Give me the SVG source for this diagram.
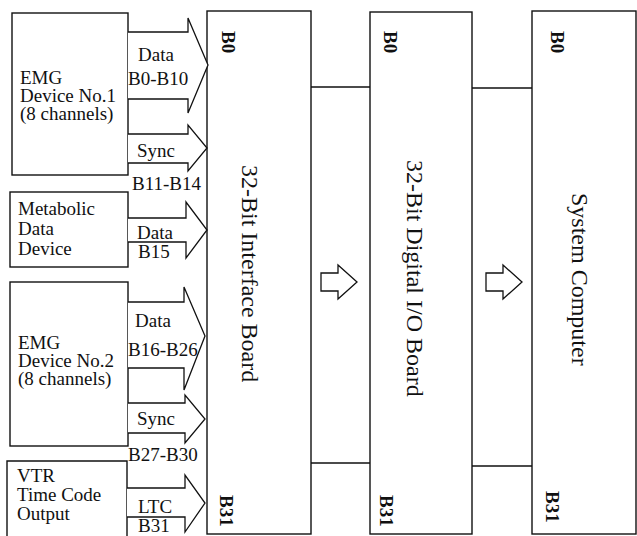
<svg xmlns="http://www.w3.org/2000/svg" width="637" height="536" viewBox="0 0 637 536">
<style>
.box{fill:#fff;stroke:#111;stroke-width:1.4}
.ln{fill:none;stroke:#111;stroke-width:1.4}
.ar{fill:#fff;stroke:#111;stroke-width:1.3;stroke-linejoin:miter}
.t{font-family:"Liberation Serif","Times New Roman",serif;font-size:19px;fill:#111}
.l{font-family:"Liberation Serif","Times New Roman",serif;font-size:19px;fill:#111}
.bt{font-family:"Liberation Serif","Times New Roman",serif;font-size:24px;fill:#111}
.bb{font-family:"Liberation Serif","Times New Roman",serif;font-size:19px;font-weight:bold;fill:#111}
</style>
<rect width="637" height="536" fill="#fff"/>
<g id="emg1">
<rect class="box" x="12" y="13" width="116" height="162"/>
<text class="t" x="20" y="84">EMG</text>
<text class="t" x="20" y="102">Device No.1</text>
<text class="t" x="20" y="120">(8 channels)</text>
</g>
<g id="metabolic">
<rect class="box" x="10" y="192" width="118" height="75"/>
<text class="t" x="18" y="215">Metabolic</text>
<text class="t" x="18" y="235">Data</text>
<text class="t" x="18" y="255">Device</text>
</g>
<g id="emg2">
<rect class="box" x="10" y="282" width="118" height="164"/>
<text class="t" x="18" y="349">EMG</text>
<text class="t" x="18" y="367">Device No.2</text>
<text class="t" x="18" y="385">(8 channels)</text>
</g>
<g id="vtr">
<path class="ln" d="M7,537 V461 H127 V537"/>
<text class="t" x="17" y="482">VTR</text>
<text class="t" x="17" y="501">Time Code</text>
<text class="t" x="17" y="520">Output</text>
</g>
<g id="interface-board">
<rect class="box" x="207" y="11" width="104" height="523"/>
<text class="bb" transform="translate(222,31) rotate(90)">B0</text>
<text class="bt" transform="translate(242,165) rotate(90)">32-Bit Interface Board</text>
<text class="bb" transform="translate(220,495) rotate(90)">B31</text>
</g>
<g id="dio-board">
<rect class="box" x="370" y="12" width="102" height="522"/>
<text class="bb" transform="translate(384,31) rotate(90)">B0</text>
<text class="bt" transform="translate(407,160) rotate(90)">32-Bit Digital I/O Board</text>
<text class="bb" transform="translate(380,495) rotate(90)">B31</text>
</g>
<g id="system-computer">
<rect class="box" x="532" y="11" width="104" height="523"/>
<text class="bb" transform="translate(551,31) rotate(90)">B0</text>
<text class="bt" transform="translate(572,193) rotate(90)">System Computer</text>
<text class="bb" transform="translate(546,491) rotate(90)">B31</text>
</g>
<g id="connectors">
<path class="ar" d="M128,32 H188 V18 L208,65 L188,113 V99 H128"/>
<path class="ar" d="M128,134 H188 V125 L207,148 L188,171 V163 H128"/>
<path class="ar" d="M128,218 H186 V202 L207,230 L186,258 V242 H128"/>
<path class="ar" d="M128,302 H184 V287 L205,336 L184,390 V368 H128"/>
<path class="ar" d="M128,403 H185 V395 L205,419 L185,443 V433 H128"/>
<path class="ar" d="M127,488 H185 V475 L205,503 L185,532 V517 H127"/>
<text class="l" x="138" y="61">Data</text>
<text class="l" x="128" y="85">B0-B10</text>
<text class="l" x="137" y="157">Sync</text>
<text class="l" x="132" y="190">B11-B14</text>
<text class="l" x="137" y="239">Data</text>
<text class="l" x="138" y="258">B15</text>
<text class="l" x="135" y="327">Data</text>
<text class="l" x="128" y="356">B16-B26</text>
<text class="l" x="137" y="425">Sync</text>
<text class="l" x="128" y="461">B27-B30</text>
<text class="l" x="138" y="513">LTC</text>
<text class="l" x="138" y="532">B31</text>
<path class="ln" d="M311,87 H370 M311,463 H370 M472,88 H532 M472,466 H532"/>
<path class="ar" d="M321,273 H338 V265 L357,282 L338,299 V291 H321 Z"/>
<path class="ar" d="M486,273 H503 V265 L522,282 L503,299 V291 H486 Z"/>
</g>
</svg>
